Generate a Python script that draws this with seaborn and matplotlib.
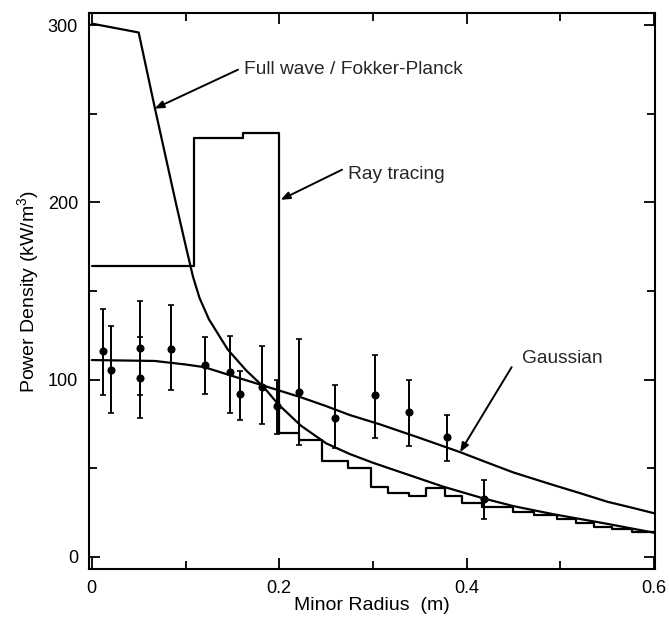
import numpy as np
import pandas as pd
import matplotlib
matplotlib.use("Agg")
import matplotlib.pyplot as plt
import seaborn as sns
from matplotlib.ticker import MultipleLocator, FixedLocator, FixedFormatter

# ---------------- data ----------------
fp_x = [0.0, 0.05, 0.067, 0.09, 0.10, 0.108, 0.115, 0.125, 0.145, 0.165, 0.183,
        0.199, 0.223, 0.25, 0.275, 0.30, 0.35, 0.375, 0.417, 0.45, 0.492, 0.55, 0.60]
fp_y = [301, 296, 254, 199, 176, 158, 146, 134, 117, 105, 96,
        86, 74, 64, 58, 53, 44, 39.5, 33, 28.5, 24, 18.5, 13.5]

gauss_x = [0.0, 0.067, 0.10, 0.12, 0.15, 0.183, 0.223, 0.25, 0.275, 0.308, 0.35,
           0.393, 0.42, 0.45, 0.492, 0.52, 0.55, 0.575, 0.60]
gauss_y = [111, 110.5, 108.5, 107, 102, 96.6, 90, 85, 80, 74.6, 67,
           59, 53.5, 47.5, 40.5, 36, 31, 27.8, 24.5]

ray_edges = [0, 0.109, 0.161, 0.200, 0.221, 0.246, 0.273, 0.298, 0.316, 0.338, 0.357,
             0.377, 0.395, 0.416, 0.449, 0.472, 0.496, 0.517, 0.536, 0.555, 0.576, 0.600]
ray_levels = [164, 236.5, 239, 70, 66, 54, 50, 39.5, 36, 34, 39,
              34, 30, 28, 25.4, 23.7, 21.5, 19, 17, 15.8, 14]

pt_x = [0.012, 0.021, 0.051, 0.051, 0.084, 0.121, 0.147, 0.158, 0.182, 0.198,
        0.221, 0.259, 0.302, 0.338, 0.379, 0.418]
pt_y = [116, 105.5, 118, 101, 117.5, 108, 104, 92, 96, 85,
        93, 78.5, 91, 81.5, 67.4, 32.8]
pt_lo = [91.5, 81, 91, 78, 94, 92, 81, 77, 75, 69,
         63, 61.5, 66.7, 62.5, 54, 21.5]
pt_hi = [140, 130, 144.6, 124, 142, 124, 124.5, 105, 119, 100,
         123, 97, 114, 100, 79.8, 43.5]

x_ticks = [0, 0.2, 0.4, 0.6]
x_ticklabels = ["0", "0.2", "0.4", "0.6"]
y_ticks = [0, 100, 200, 300]
y_ticklabels = ["0", "100", "200", "300"]

# ---------------- style ----------------
sns.set_theme(style="ticks")
plt.rcParams["font.family"] = ["Liberation Sans", "DejaVu Sans"]
plt.rcParams["mathtext.fontset"] = "custom"
plt.rcParams["mathtext.rm"] = "Liberation Sans"

fig = plt.figure(figsize=(6.69, 6.27), dpi=100)
ax = fig.add_axes([89 / 669, 58 / 627, 566 / 669, 556 / 627])

LW = 1.6
K = "black"

sns.lineplot(x=fp_x, y=fp_y, ax=ax, color=K, lw=LW, sort=False)
sns.lineplot(x=gauss_x, y=gauss_y, ax=ax, color=K, lw=LW, sort=False)
ray_df = pd.DataFrame({"x": ray_edges, "y": ray_levels + [ray_levels[-1]]})
sns.lineplot(data=ray_df, x="x", y="y", ax=ax, color=K, lw=LW,
             drawstyle="steps-post", sort=False)

pt_x_a = np.array(pt_x)
pt_y_a = np.array(pt_y)
yerr = np.vstack([pt_y_a - np.array(pt_lo), np.array(pt_hi) - pt_y_a])
ax.errorbar(pt_x_a, pt_y_a, yerr=yerr, fmt="none", ecolor=K, elinewidth=1.4,
            capsize=2, capthick=1.2)
sns.scatterplot(x=pt_x, y=pt_y, ax=ax, color=K, s=34, edgecolor=K, linewidth=0, zorder=5)

# ---------------- annotations ----------------
FS = 13.8
arrow = dict(arrowstyle="-|>,head_length=0.45,head_width=0.18", color=K, lw=1.4,
             shrinkA=0, shrinkB=0)
ax.annotate("", xy=(0.067, 253), xytext=(0.156, 275), arrowprops=arrow)
ax.text(0.162, 275, "Full wave / Fokker-Planck", fontsize=FS, va="center", ha="left")
ax.annotate("", xy=(0.2015, 201.5), xytext=(0.267, 218.5), arrowprops=arrow)
ax.text(0.273, 216, "Ray tracing", fontsize=FS, va="center", ha="left")
ax.annotate("", xy=(0.393, 59), xytext=(0.448, 107), arrowprops=arrow)
ax.text(0.459, 112, "Gaussian", fontsize=FS, va="center", ha="left")

# ---------------- axes ----------------
ax.set_xlim(-0.003, 0.601)
ax.set_ylim(-7, 307)
ax.xaxis.set_major_locator(FixedLocator(x_ticks))
ax.xaxis.set_major_formatter(FixedFormatter(x_ticklabels))
ax.yaxis.set_major_locator(FixedLocator(y_ticks))
ax.yaxis.set_major_formatter(FixedFormatter(y_ticklabels))
ax.xaxis.set_minor_locator(MultipleLocator(0.1))
ax.yaxis.set_minor_locator(MultipleLocator(50))
ax.tick_params(which="both", direction="in", top=True, right=True,
               color=K, width=1.3, labelsize=13, labelcolor=K)
ax.tick_params(which="major", length=8, pad=8)
ax.tick_params(which="minor", length=6)
for s in ax.spines.values():
    s.set_color(K)
    s.set_linewidth(1.5)

ax.set_xlabel("Minor Radius  (m)", fontsize=14, color=K, labelpad=0)
ax.set_ylabel("Power Density (kW/m$^3$)", fontsize=14, color=K, labelpad=4)

fig.savefig("out.png", dpi=100)
